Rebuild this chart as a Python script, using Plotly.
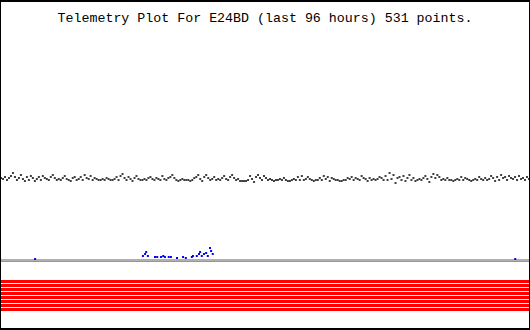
import numpy as np
import plotly.graph_objects as go

TITLE = "Telemetry Plot For E24BD (last 96 hours) 531 points."

# main telemetry channel (arbitrary units), sampled evenly over the last 96 hours
main_vals = [
    152,151,153,150,152,154,157,153,150,152,155,151,149,153,150,154,152,149,151,153,
    150,154,152,151,150,153,155,152,150,151,150,152,154,151,150,149,152,153,150,151,
    153,150,155,152,151,154,150,152,151,150,150,151,150,152,151,150,150,151,153,150,
    154,156,152,150,153,151,149,152,154,151,150,150,151,150,152,153,151,150,152,151,
    150,154,151,150,152,153,155,152,150,149,150,151,150,150,150,149,150,152,153,155,
    151,149,153,155,152,150,151,153,150,151,150,152,154,151,150,153,155,152,150,151,
    149,149,149,149,150,154,151,148,153,155,152,150,154,152,150,151,150,149,150,150,
    151,150,152,150,149,149,150,151,150,153,150,154,150,151,153,151,150,149,150,150,
    152,150,154,151,153,149,152,151,150,150,149,149,150,150,152,151,153,150,152,151,
    150,154,152,151,149,152,150,151,150,151,153,152,150,154,150,157,151,155,147,152,
    153,150,154,149,152,155,150,152,149,150,151,150,152,154,151,148,153,156,152,155,
    153,150,151,150,152,150,150,149,150,151,150,153,150,152,151,150,149,150,151,150,
    153,151,150,152,150,151,154,152,149,153,150,155,152,153,150,154,152,151,153,150,
    154,151,152,150,153,151,
]
main_hours = np.linspace(-96, 0, len(main_vals))

# secondary (blue) channel: only the non-zero readings
blue_hours = [-70.2, -69.8, -69.6, -69.3, -68.0, -67.6, -66.9, -66.5, -66.2, -65.5,
              -65.1, -64.0, -62.9, -62.4, -61.3, -61.1, -60.4, -60.0, -59.8, -59.5,
              -59.1, -58.7, -58.4, -58.0, -57.8, -57.5, -89.8, -2.5]
blue_vals = [74, 76, 78, 74, 73, 73, 73, 74, 73, 73,
             73, 72, 73, 72, 73, 74, 74, 76, 78, 74,
             76, 77, 74, 82, 79, 76, 71, 71]

# reference levels
gray_level = 70
green_level = 68.5
red_levels = [48.5, 44.5, 40.5, 36.5, 32.5, 28.5, 24.5, 20.5]

x_span = [-96, 0]

fig = go.Figure()
for lvl in red_levels:
    fig.add_trace(go.Scatter(x=x_span, y=[lvl, lvl], mode="lines",
                             line=dict(color="#ff0000", width=3), hoverinfo="skip"))
fig.add_trace(go.Scatter(x=x_span, y=[gray_level, gray_level], mode="lines",
                         line=dict(color="#b0b0b0", width=2), hoverinfo="skip"))
fig.add_trace(go.Scatter(x=x_span, y=[green_level, green_level], mode="lines",
                         line=dict(color="#00ff00", width=1), hoverinfo="skip"))
fig.add_trace(go.Scatter(x=blue_hours, y=blue_vals, mode="markers",
                         marker=dict(symbol="square", size=2, color="#0000ff",
                                     line=dict(width=0))))
fig.add_trace(go.Scatter(x=main_hours, y=main_vals, mode="markers",
                         marker=dict(symbol="square", size=2, color="#404040",
                                     line=dict(width=0))))

fig.update_layout(
    width=530, height=330,
    margin=dict(l=1, r=1, t=2, b=2, pad=0),
    paper_bgcolor="#000000",
    plot_bgcolor="#ffffff",
    showlegend=False,
    title=dict(text=TITLE, x=0.5, xanchor="center", y=1 - 17 / 330, yanchor="middle",
               font=dict(family="Liberation Mono", size=13.3, color="#000000")),
    xaxis=dict(range=[-96, 0], visible=False, showgrid=False, zeroline=False, fixedrange=True),
    yaxis=dict(range=[2, 328], visible=False, showgrid=False, zeroline=False, fixedrange=True),
)

fig.write_html("out.html", config={"displayModeBar": False})
